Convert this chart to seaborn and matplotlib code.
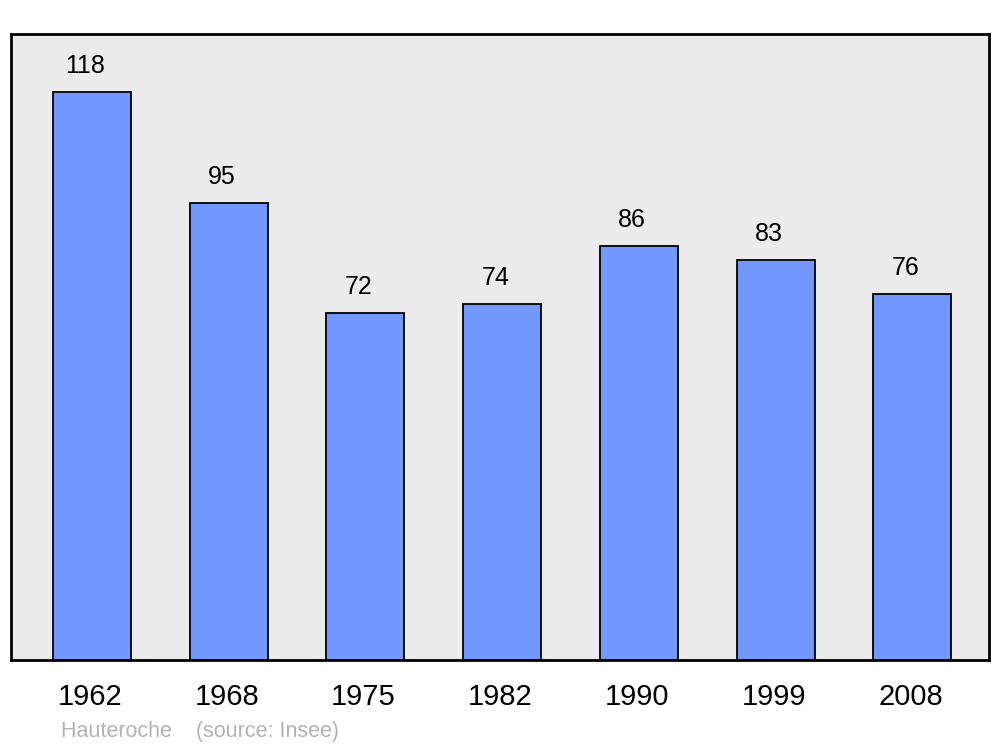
import matplotlib
matplotlib.use("Agg")
import matplotlib.pyplot as plt
import matplotlib.transforms as mtransforms
import pandas as pd
import seaborn as sns

years = ["1962", "1968", "1975", "1982", "1990", "1999", "2008"]
population = [118, 95, 72, 74, 86, 83, 76]

sns.set_theme(style="white")
plt.rcParams["font.family"] = ["Liberation Sans", "DejaVu Sans"]

df = pd.DataFrame({"year": years, "pop": population})

fig = plt.figure(figsize=(10, 7.47), dpi=100)
ax = fig.add_axes([0.011, 0.1165, 0.978, 0.838])
ax.set_facecolor("#ececec")

sns.barplot(data=df, x="year", y="pop", color="#7399ff", saturation=1,
            width=0.57, edgecolor="black", linewidth=1.3, ax=ax)

for p, v in zip(ax.patches, population):
    ax.annotate(str(v), (p.get_x() + p.get_width() / 2, p.get_height()),
                xytext=(-5, 10), textcoords="offset points",
                ha="center", va="bottom", fontsize=18, color="black")

ax.set_xlim(-0.592, 6.56)
ax.set_ylim(0, 130)
ax.set_yticks([])
ax.set_xlabel("")
ax.set_ylabel("")
ax.tick_params(axis="x", length=0, pad=16.5, labelsize=21, colors="black")
# nudge year labels slightly left, like the original
shift = mtransforms.ScaledTranslation(-2 / 100, 0, fig.dpi_scale_trans)
for lbl in ax.get_xticklabels():
    lbl.set_transform(lbl.get_transform() + shift)
for s in ax.spines.values():
    s.set_visible(True)
    s.set_color("black")
    s.set_linewidth(2)

fig.text(0.061, 1 - 731 / 747, "Hauteroche    (source: Insee)",
         color="#b3b3b3", fontsize=15.5, va="center", ha="left")

fig.savefig("out.png", dpi=100)
